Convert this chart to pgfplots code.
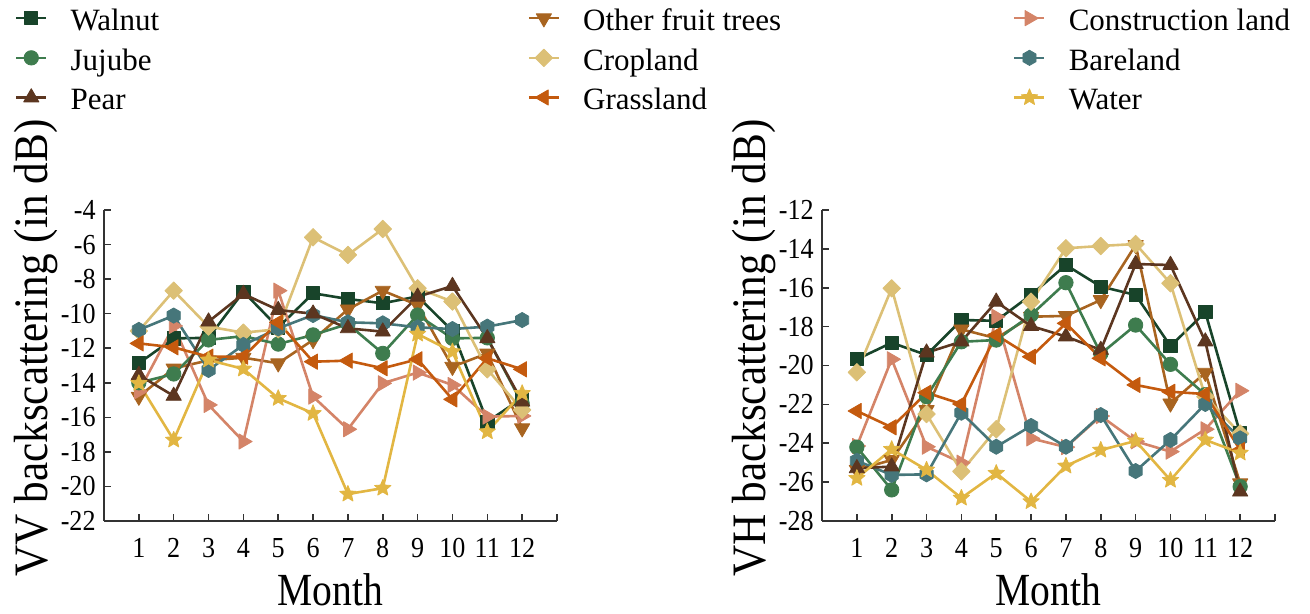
\documentclass[border=0pt]{standalone}
\usepackage{fontspec}
\setmainfont{Liberation Serif}
\usepackage{graphicx}
\usepackage{pgfplots}
\usepackage{pgfplotstable}
\pgfplotsset{compat=1.18}
\usetikzlibrary{plotmarks}

\definecolor{cWal}{RGB}{24,68,42}
\definecolor{cJuj}{RGB}{62,124,78}
\definecolor{cPear}{RGB}{92,54,32}
\definecolor{cOft}{RGB}{168,100,32}
\definecolor{cCrop}{RGB}{220,192,118}
\definecolor{cGrass}{RGB}{196,90,14}
\definecolor{cCons}{RGB}{212,132,104}
\definecolor{cBare}{RGB}{70,118,122}
\definecolor{cWater}{RGB}{226,182,66}

\pgfdeclareplotmark{hexagon*}{%
  \pgfpathmoveto{\pgfqpointpolar{90}{\pgfplotmarksize}}%
  \pgfpathlineto{\pgfqpointpolar{150}{\pgfplotmarksize}}%
  \pgfpathlineto{\pgfqpointpolar{210}{\pgfplotmarksize}}%
  \pgfpathlineto{\pgfqpointpolar{270}{\pgfplotmarksize}}%
  \pgfpathlineto{\pgfqpointpolar{330}{\pgfplotmarksize}}%
  \pgfpathlineto{\pgfqpointpolar{30}{\pgfplotmarksize}}%
  \pgfpathclose\pgfusepathqfillstroke}
\pgfdeclareplotmark{fstar}{%
  \pgfpathmoveto{\pgfpointpolar{90}{\pgfplotmarksize}}%
  \pgfpathlineto{\pgfpointpolar{126}{0.45\pgfplotmarksize}}%
  \pgfpathlineto{\pgfpointpolar{162}{\pgfplotmarksize}}%
  \pgfpathlineto{\pgfpointpolar{198}{0.45\pgfplotmarksize}}%
  \pgfpathlineto{\pgfpointpolar{234}{\pgfplotmarksize}}%
  \pgfpathlineto{\pgfpointpolar{270}{0.45\pgfplotmarksize}}%
  \pgfpathlineto{\pgfpointpolar{306}{\pgfplotmarksize}}%
  \pgfpathlineto{\pgfpointpolar{342}{0.45\pgfplotmarksize}}%
  \pgfpathlineto{\pgfpointpolar{18}{\pgfplotmarksize}}%
  \pgfpathlineto{\pgfpointpolar{54}{0.45\pgfplotmarksize}}%
  \pgfpathclose\pgfusepathqfillstroke}

\newcommand{\cx}[1]{\scalebox{0.9}[1]{#1}}

\pgfplotsset{
  sWal/.style={color=cWal, mark=square*, mark size=3.3pt, mark options={solid, fill=cWal, draw=cWal, line width=0.4pt}},
  sJuj/.style={color=cJuj, mark=*, mark size=3.6pt, mark options={solid, fill=cJuj, draw=cJuj, line width=0.4pt}},
  sPear/.style={color=cPear, mark=triangle*, mark size=4.4pt, mark options={solid, fill=cPear, draw=cPear, line width=0.4pt}},
  sOft/.style={color=cOft, mark=triangle*, mark size=4.4pt, mark options={solid, fill=cOft, draw=cOft, line width=0.4pt, rotate=180}},
  sCrop/.style={color=cCrop, mark=square*, mark size=3.1pt, mark options={solid, fill=cCrop, draw=cCrop, line width=0.4pt, rotate=45}},
  sGrass/.style={color=cGrass, mark=triangle*, mark size=4.4pt, mark options={solid, fill=cGrass, draw=cGrass, line width=0.4pt, rotate=90}},
  sCons/.style={color=cCons, mark=triangle*, mark size=4.4pt, mark options={solid, fill=cCons, draw=cCons, line width=0.4pt, rotate=-90}},
  sBare/.style={color=cBare, mark=hexagon*, mark size=3.8pt, mark options={solid, fill=cBare, draw=cBare, line width=0.4pt}},
  sWater/.style={color=cWater, mark=fstar, mark size=4.3pt, mark options={solid, fill=cWater, draw=cWater, line width=0.4pt}},
  myax/.style={
    scale only axis, width=226.5pt, height=155.5pt,
    xmin=0, xmax=13,
    axis x line*=bottom, axis y line*=left,
    tick align=inside, major tick length=3.5pt,
    axis line style={line width=0.8pt, color=black!80},
    every tick/.style={line width=0.8pt, color=black!80},
    /pgf/number format/assume math mode=true,
    xtick={1,2,3,4,5,6,7,8,9,10,11,12,13},
    xticklabels={\cx{1},\cx{2},\cx{3},\cx{4},\cx{5},\cx{6},\cx{7},\cx{8},\cx{9},\cx{10},\cx{11},\cx{12},{}},
    tick label style={font=\fontsize{14.5}{16}\selectfont, inner sep=0pt},
    xticklabel style={anchor=center, yshift=-13.5pt},
    yticklabel style={anchor=east, xshift=-4pt},
    xlabel={\scalebox{0.86}[1]{Month}},
    xlabel style={font=\fontsize{23}{26}\selectfont, inner sep=0pt, at={(axis description cs:0.5,-0.222)}, anchor=center},
    ylabel style={font=\fontsize{24}{28}\selectfont, inner sep=0pt, at={(axis description cs:-0.15,0.556)}, anchor=center},
    every axis plot/.append style={line width=1.3pt, line join=round},
  },
}

\pgfplotstableread{
m wal juj pear oft crop grass cons bare water
1  -12.87 -14.0  -13.55 -14.8  -11.0  -11.72 -14.5  -10.94 -14.03
2  -11.43 -13.49 -14.76 -13.17 -8.67  -11.95 -10.71 -10.11 -17.31
3  -11.4  -11.52 -10.46 -12.7  -10.75 -12.49 -15.28 -13.26 -12.68
4  -8.73  -11.3  -8.86  -12.55 -11.1  -12.49 -17.4  -11.81 -13.2
5  -10.8  -11.76 -9.79  -12.87 -10.9  -10.5  -8.67  -10.85 -14.9
6  -8.82  -11.23 -10.0  -11.52 -5.58  -12.78 -14.8  -10.08 -15.77
7  -9.15  -10.6  -10.85 -9.75  -6.6   -12.72 -16.69 -10.5  -20.44
8  -9.4   -12.3  -11.04 -8.67  -5.1   -13.16 -14.03 -10.56 -20.1
9  -9.0   -10.08 -9.02  -9.5   -8.53  -12.64 -13.41 -10.79 -11.18
10 -11.0  -11.43 -8.4   -13.07 -9.3   -14.96 -14.13 -10.89 -12.2
11 -16.25 -11.4  -11.43 -12.3  -13.22 -12.58 -15.96 -10.75 -16.83
12 -14.9  -15.2  -15.09 -16.63 -15.57 -13.22 -15.92 -10.37 -14.61
}\vvdata

\pgfplotstableread{
m wal juj pear oft crop grass cons bare water
1  -19.68 -24.2  -25.29 -25.37 -20.35 -22.34 -24.14 -24.9  -25.8
2  -18.83 -26.4  -25.2  -24.86 -16.03 -23.18 -19.68 -25.63 -24.31
3  -19.46 -21.6  -19.34 -22.29 -22.5  -21.4  -24.18 -25.6  -25.37
4  -17.66 -18.78 -18.77 -18.14 -25.45 -21.98 -25.0  -22.43 -26.82
5  -17.7  -18.69 -16.72 -18.6  -23.28 -18.43 -17.49 -24.18 -25.54
6  -16.37 -17.4  -17.97 -17.49 -16.72 -19.55 -23.75 -23.11 -27.0
7  -14.83 -15.74 -18.51 -17.45 -13.97 -17.83 -24.2  -24.18 -25.17
8  -15.94 -19.4  -19.2  -16.63 -13.85 -19.63 -22.6  -22.55 -24.35
9  -16.37 -17.92 -14.78 -13.8  -13.75 -21.0  -23.9  -25.43 -23.88
10 -19.0  -19.94 -14.83 -21.95 -15.77 -21.35 -24.43 -23.83 -25.9
11 -17.26 -21.5  -18.77 -20.37 -21.6  -21.47 -23.28 -21.98 -23.83
12 -23.49 -26.23 -26.49 -26.06 -23.5  -24.35 -21.3  -23.75 -24.5
}\vhdata

\begin{document}
\begin{tikzpicture}
\begin{axis}[myax, at={(0pt,0pt)}, anchor=south west,
  ymin=-22, ymax=-4,
  ytick={-22,-20,-18,-16,-14,-12,-10,-8,-6,-4},
  yticklabels={\cx{-22},\cx{-20},\cx{-18},\cx{-16},\cx{-14},\cx{-12},\cx{-10},\cx{-8},\cx{-6},\cx{-4}},
  ylabel={\scalebox{0.9}[1]{VV backscattering (in dB)}},
  legend columns=3,
  legend cell align=left,
  legend image code/.code={\draw[mark repeat=2,mark phase=2] plot coordinates {(0pt,0pt) (7.5pt,0pt) (15pt,0pt)};},
  legend style={at={(axis description cs:-0.1965,1.666)}, anchor=north west, draw=none, fill=none,
    inner sep=0pt, outer sep=0pt, row sep=4.5pt,
    font=\fontsize{15.5}{19.75}\selectfont, nodes={inner sep=0pt},
    /tikz/every odd column/.append style={column sep=11.5pt}},
]
\addplot[sWal]   table[x=m,y=wal]{\vvdata};   \addlegendentry{\makebox[228.5pt][l]{\strut Walnut}}
\addplot[sOft]   table[x=m,y=oft]{\vvdata};   \addlegendentry{\makebox[215pt][l]{\strut Other fruit trees}}
\addplot[sCons]  table[x=m,y=cons]{\vvdata};  \addlegendentry{\strut Construction land}
\addplot[sJuj]   table[x=m,y=juj]{\vvdata};   \addlegendentry{\makebox[228.5pt][l]{\strut Jujube}}
\addplot[sCrop]  table[x=m,y=crop]{\vvdata};  \addlegendentry{\makebox[215pt][l]{\strut Cropland}}
\addplot[sBare]  table[x=m,y=bare]{\vvdata};  \addlegendentry{\strut Bareland}
\addplot[sPear]  table[x=m,y=pear]{\vvdata};  \addlegendentry{\makebox[228.5pt][l]{\strut Pear}}
\addplot[sGrass] table[x=m,y=grass]{\vvdata}; \addlegendentry{\makebox[215pt][l]{\strut Grassland}}
\addplot[sWater] table[x=m,y=water]{\vvdata}; \addlegendentry{\strut Water}
\end{axis}
\begin{axis}[myax, at={(359pt,0pt)}, anchor=south west,
  ymin=-28, ymax=-12,
  ytick={-28,-26,-24,-22,-20,-18,-16,-14,-12},
  yticklabels={\cx{-28},\cx{-26},\cx{-24},\cx{-22},\cx{-20},\cx{-18},\cx{-16},\cx{-14},\cx{-12}},
  ylabel={\scalebox{0.9}[1]{VH backscattering (in dB)}},
]
\addplot[sWal]   table[x=m,y=wal]{\vhdata};
\addplot[sOft]   table[x=m,y=oft]{\vhdata};
\addplot[sCons]  table[x=m,y=cons]{\vhdata};
\addplot[sJuj]   table[x=m,y=juj]{\vhdata};
\addplot[sCrop]  table[x=m,y=crop]{\vhdata};
\addplot[sBare]  table[x=m,y=bare]{\vhdata};
\addplot[sPear]  table[x=m,y=pear]{\vhdata};
\addplot[sGrass] table[x=m,y=grass]{\vhdata};
\addplot[sWater] table[x=m,y=water]{\vhdata};
\end{axis}
\pgfresetboundingbox
\path[use as bounding box] (-52pt,-46.5pt) rectangle (603pt,260.5pt);
\end{tikzpicture}
\end{document}
